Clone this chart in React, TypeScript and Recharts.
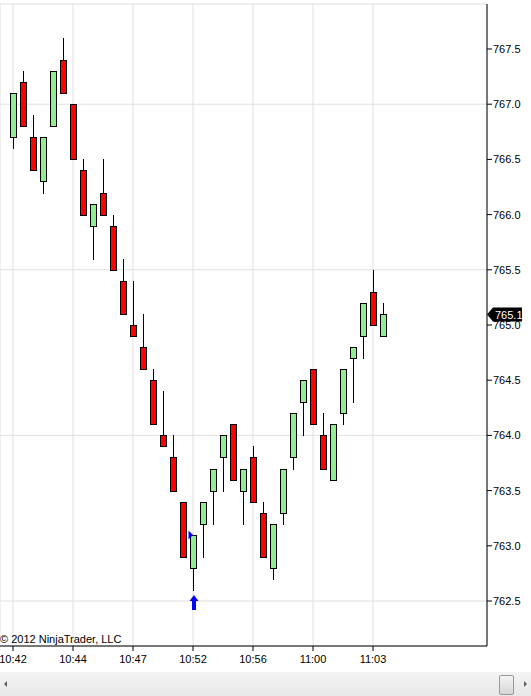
import React from 'react';
import { ComposedChart, Bar, XAxis, YAxis, CartesianGrid, ReferenceLine, ReferenceDot } from 'recharts';

const FONT = '"Liberation Sans", Arial, sans-serif';

const timeLabels = ['10:42', '10:44', '10:47', '10:52', '10:56', '11:00', '11:03'];
const timeTickIndex = [0, 6, 12, 18, 24, 30, 36];

const opens = [766.7, 767.2, 766.7, 766.3, 766.8, 767.4, 767.0, 766.4, 765.9, 766.2, 765.9, 765.4, 765.0, 764.8, 764.5, 764.0, 763.8, 763.4, 762.8, 763.2, 763.5, 763.8, 764.1, 763.5, 763.8, 763.3, 762.8, 763.3, 763.8, 764.3, 764.6, 764.0, 763.6, 764.2, 764.7, 764.9, 765.3, 764.9];
const highs = [767.1, 767.3, 766.9, 766.7, 767.3, 767.6, 767.0, 766.5, 766.1, 766.5, 766.0, 765.6, 765.4, 765.1, 764.6, 764.4, 764.0, 763.4, 763.1, 763.4, 763.7, 764.0, 764.1, 763.7, 763.9, 763.4, 763.2, 763.7, 764.2, 764.5, 764.6, 764.2, 764.1, 764.6, 764.8, 765.2, 765.5, 765.2];
const lows = [766.6, 766.8, 766.4, 766.2, 766.8, 767.1, 766.5, 766.0, 765.6, 766.0, 765.5, 765.1, 764.9, 764.6, 764.1, 763.9, 763.5, 762.9, 762.6, 762.9, 763.2, 763.5, 763.6, 763.2, 763.4, 762.9, 762.7, 763.2, 763.7, 764.0, 764.1, 763.7, 763.6, 764.1, 764.3, 764.7, 765.0, 764.9];
const closes = [767.1, 766.8, 766.4, 766.7, 767.3, 767.1, 766.5, 766.0, 766.1, 766.0, 765.5, 765.1, 764.9, 764.6, 764.1, 763.9, 763.5, 762.9, 763.1, 763.4, 763.7, 764.0, 763.6, 763.7, 763.4, 762.9, 763.2, 763.7, 764.2, 764.5, 764.1, 763.7, 764.1, 764.6, 764.8, 765.2, 765.0, 765.1];

const priceTicks = [762.5, 763.0, 763.5, 764.0, 764.5, 765.0, 765.5, 766.0, 766.5, 767.0, 767.5];
const gridPrices = [762.5, 764.0, 765.5, 767.0];
const lastPrice = 765.1;
const signalBar = 18;
const entryPrice = 763.1;

const Y_DOMAIN: [number, number] = [762.0924, 767.9076];
const X_DOMAIN: [number, number] = [-1.3, 47.4];

const data = opens.map((o, i) => ({ i, open: o, high: highs[i], low: lows[i], close: closes[i] }));

const Candle = (props: any) => {
  const { x, y, width, height, payload } = props;
  if (x == null || y == null || !payload) return null;
  const { open, close, high, low } = payload;
  const cx = Math.round(x + width / 2);
  const py = (p: number) => y + ((high - p) / (high - low)) * height;
  const top = Math.round(py(Math.max(open, close)));
  const bot = Math.round(py(Math.min(open, close)));
  const yh = Math.round(py(high));
  const yl = Math.round(py(low));
  const up = close >= open;
  return (
    <g>
      <line x1={cx + 0.5} x2={cx + 0.5} y1={yh} y2={yl + 1} stroke="#000" strokeWidth={1} />
      <rect x={cx - 2.5} y={top + 0.5} width={6} height={bot - top} fill={up ? '#90ee90' : '#ff0000'} stroke="#000" strokeWidth={1} />
    </g>
  );
};

const UpArrow = (props: any) => {
  const { cx, cy } = props;
  if (cx == null || cy == null) return null;
  const c = Math.round(cx) + 1;
  const t = Math.round(cy) + 5;
  return (
    <polygon
      points={`${c},${t} ${c + 4.5},${t + 6} ${c + 2},${t + 6} ${c + 2},${t + 15} ${c - 2},${t + 15} ${c - 2},${t + 6} ${c - 4.5},${t + 6}`}
      fill="#0000ff"
    />
  );
};

const EntryMark = (props: any) => {
  const { cx, cy } = props;
  if (cx == null || cy == null) return null;
  const c = Math.round(cx);
  const m = Math.round(cy);
  return <polygon points={`${c - 4.5},${m - 4.5} ${c},${m} ${c - 4.5},${m + 4.5}`} fill="#0000ff" />;
};

const PriceTag = (props: any) => {
  const vb = props.viewBox;
  if (!vb) return null;
  const x = vb.x + vb.width;
  const y = Math.round(vb.y) + 0.5;
  return (
    <g>
      <polygon points={`${x},${y} ${x + 6},${y - 7} ${x + 35},${y - 7} ${x + 35},${y + 7} ${x + 6},${y + 7}`} fill="#000" />
      <text x={x + 8} y={y + 4} fill="#fff" fontSize={11} fontFamily={FONT}>
        {lastPrice.toFixed(1)}
      </text>
    </g>
  );
};

export default function App() {
  return (
    <div style={{ position: 'absolute', left: 0, top: 0, width: 531, height: 696, background: '#fff', overflow: 'hidden' }}>
      <ComposedChart width={531} height={672} data={data} margin={{ top: 4, right: 0, left: 0, bottom: 0 }}>
        <CartesianGrid stroke="#e0e0e0" yAxisId="grid" vertical={true} horizontal={true} />
        <XAxis
          type="number"
          dataKey="i"
          domain={X_DOMAIN}
          allowDataOverflow
          ticks={timeTickIndex}
          interval={0}
          tickFormatter={(v: number) => timeLabels[timeTickIndex.indexOf(v)] ?? ''}
          height={26}
          tickSize={5}
          tickMargin={4}
          axisLine={{ stroke: '#000' }}
          tickLine={{ stroke: '#000' }}
          tick={{ fontSize: 11, fill: '#000', fontFamily: FONT }}
        />
        <YAxis
          orientation="right"
          domain={Y_DOMAIN}
          allowDataOverflow
          ticks={priceTicks}
          interval={0}
          width={44}
          tickSize={5}
          tickMargin={1}
          tickFormatter={(v: number) => v.toFixed(1)}
          axisLine={{ stroke: '#000' }}
          tickLine={{ stroke: '#000' }}
          tick={{ fontSize: 11, fill: '#000', fontFamily: FONT }}
        />
        <YAxis yAxisId="grid" orientation="right" hide domain={Y_DOMAIN} allowDataOverflow ticks={gridPrices} interval={0} />
        <Bar dataKey={(d: any) => [d.low, d.high]} barSize={7} shape={Candle} isAnimationActive={false} />
        <ReferenceDot x={signalBar} y={lows[signalBar]} r={0} shape={UpArrow} ifOverflow="visible" />
        <ReferenceDot x={signalBar} y={entryPrice} r={0} shape={EntryMark} ifOverflow="visible" />
        <ReferenceLine y={lastPrice} stroke="none" ifOverflow="visible" label={PriceTag} />
      </ComposedChart>
      <svg width={531} height={696} style={{ position: 'absolute', left: 0, top: 0, pointerEvents: 'none' }}>
        <text x={0} y={643} fontSize={11} fill="#000" fontFamily={FONT}>© 2012 NinjaTrader, LLC</text>
      </svg>
      <div style={{ position: 'absolute', left: 0, top: 672, width: 531, height: 24, background: 'linear-gradient(#f4f4f4, #e8e8e8)' }}>
        <div style={{ position: 'absolute', left: 4, top: 9, width: 0, height: 0, borderTop: '3px solid transparent', borderBottom: '3px solid transparent', borderRight: '3px solid #606060' }} />
        <div style={{ position: 'absolute', left: 499, top: 3, width: 13, height: 18, border: '1px solid #9a9a9a', borderRadius: 2, background: 'linear-gradient(#f4f4f4, #d6d6d6)' }} />
        <div style={{ position: 'absolute', left: 524, top: 9, width: 0, height: 0, borderTop: '3px solid transparent', borderBottom: '3px solid transparent', borderLeft: '3px solid #606060' }} />
      </div>
    </div>
  );
}
